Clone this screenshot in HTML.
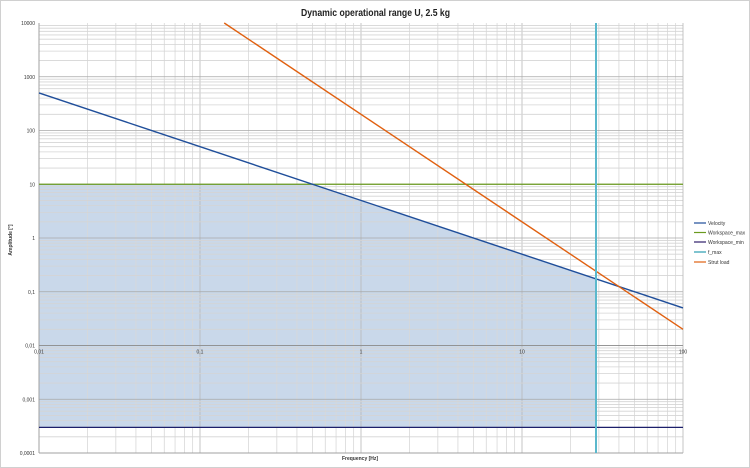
<!DOCTYPE html>
<html><head><meta charset="utf-8"><style>
html,body{margin:0;padding:0;background:#fff;}
svg{display:block;font-family:"Liberation Sans",sans-serif;}
</style></head><body>
<svg id="s" width="750" height="468" xmlns="http://www.w3.org/2000/svg">
<rect x="0.5" y="0.5" width="749" height="467" fill="#fff" stroke="#d0d0d0"/>
<text x="301" y="16" font-size="10.5" font-weight="bold" fill="#222" textLength="149" lengthAdjust="spacingAndGlyphs">Dynamic operational range U, 2.5 kg</text>
<g id="g"></g>
<text x="360" y="460" text-anchor="middle" font-size="5" font-weight="bold" fill="#333">Frequency [Hz]</text>
<text transform="translate(12,240) rotate(-90)" text-anchor="middle" font-size="5" font-weight="bold" fill="#333">Amplitude [°]</text>
<g font-size="5" fill="#333">
<line x1="694" y1="223" x2="706" y2="223" stroke="#1f4e9a" stroke-width="1.2"/><text x="708" y="225">Velocity</text>
<line x1="694" y1="232.5" x2="706" y2="232.5" stroke="#6a9a1f" stroke-width="1.2"/><text x="708" y="234.5">Workspace_max</text>
<line x1="694" y1="242" x2="706" y2="242" stroke="#2e1f6a" stroke-width="1.2"/><text x="708" y="244">Workspace_min</text>
<line x1="694" y1="252" x2="706" y2="252" stroke="#2a9cb0" stroke-width="1.2"/><text x="708" y="254">f_max</text>
<line x1="694" y1="262" x2="706" y2="262" stroke="#e06010" stroke-width="1.2"/><text x="708" y="264">Strut load</text>
</g>
</svg>
<script>
var L=39,R=683,T=23,B=453;
function X(f){return L+(Math.log10(f)+2)*(R-L)/4;}
function Y(a){return B-(Math.log10(a)+4)*(B-T)/8;}
var h='';
var fx=596, fm=Math.pow(10,(fx-L)/((R-L)/4)-2);
var pts=[[X(0.01),Y(0.0003)],[X(0.01),Y(10)],[X(0.5),Y(10)],[fx,Y(5/fm)],[fx,Y(0.0003)]];
h+='<polygon points="'+pts.map(p=>p.join(',')).join(' ')+'" fill="#c9d8ea"/>';
for(var d=-2;d<2;d++)for(var k=1;k<10;k++){var x=X(k*Math.pow(10,d));h+='<line x1="'+x+'" y1="'+T+'" x2="'+x+'" y2="'+B+'" stroke="'+(k==1?'#b8b8b8':'#d8d8d8')+'" stroke-width="0.8"/>';}
for(var d=-4;d<4;d++)for(var k=1;k<10;k++){var y=Y(k*Math.pow(10,d));h+='<line x1="'+L+'" y1="'+y+'" x2="'+R+'" y2="'+y+'" stroke="'+(k==1?'#a8a8a8':'#d4d4d4')+'" stroke-width="0.8"/>';}
h+='<line x1="'+R+'" y1="'+T+'" x2="'+R+'" y2="'+B+'" stroke="#b8b8b8" stroke-width="0.8"/>';
h+='<line x1="'+L+'" y1="'+T+'" x2="'+L+'" y2="'+B+'" stroke="#999" stroke-width="0.8"/>';
h+='<line x1="'+L+'" y1="'+B+'" x2="'+R+'" y2="'+B+'" stroke="#999" stroke-width="0.8"/>';
h+='<line x1="'+L+'" y1="'+Y(0.01)+'" x2="'+R+'" y2="'+Y(0.01)+'" stroke="#888" stroke-width="0.8"/>';
var yl=['0,0001','0,001','0,01','0,1','1','10','100','1000','10000'];
for(var i=0;i<9;i++)h+='<text x="35" y="'+(Y(Math.pow(10,i-4))+2)+'" text-anchor="end" font-size="5" fill="#333">'+yl[i]+'</text>';
var xl=['0,01','0,1','1','10','100'];
for(var i=0;i<5;i++)h+='<text x="'+X(Math.pow(10,i-2))+'" y="'+(Y(0.01)+8)+'" text-anchor="middle" font-size="5" fill="#333">'+xl[i]+'</text>';
h+='<line x1="'+L+'" y1="'+Y(10)+'" x2="'+R+'" y2="'+Y(10)+'" stroke="#6a9a1f" stroke-width="1.2"/>';
h+='<line x1="'+L+'" y1="'+Y(0.0003)+'" x2="'+R+'" y2="'+Y(0.0003)+'" stroke="#1c1f6a" stroke-width="1.2"/>';
h+='<line x1="'+L+'" y1="'+Y(500)+'" x2="'+R+'" y2="'+Y(0.05)+'" stroke="#1f4e9a" stroke-width="1.4"/>';
h+='<line x1="'+X(Math.sqrt(0.02))+'" y1="'+T+'" x2="'+R+'" y2="'+Y(0.02)+'" stroke="#e06010" stroke-width="1.4"/>';
h+='<line x1="'+fx+'" y1="'+T+'" x2="'+fx+'" y2="'+B+'" stroke="#5bb8cc" stroke-width="2"/>';
document.getElementById('g').innerHTML=h;
</script>
</body></html>
